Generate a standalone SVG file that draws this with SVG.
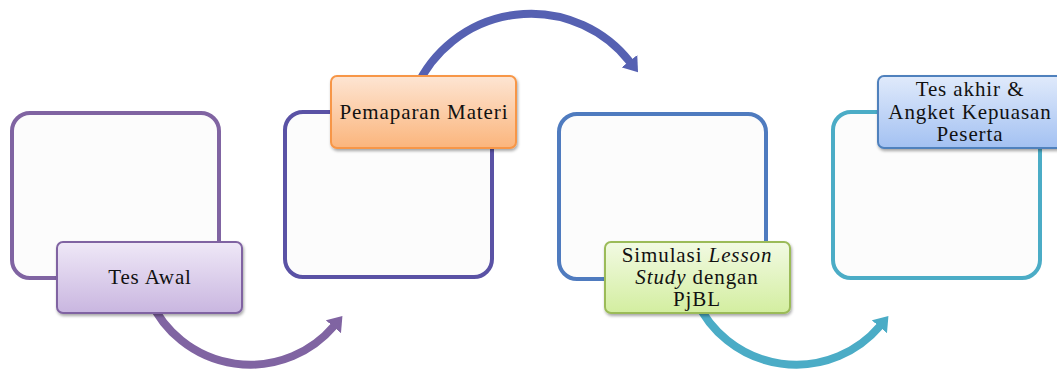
<svg xmlns="http://www.w3.org/2000/svg" width="1057" height="369" viewBox="0 0 1057 369">
<style>
.box{fill:#fcfcfc;stroke-width:4}
.lbl{stroke-width:2}
.t{font-family:"Liberation Serif","Times New Roman",serif;font-size:21px;letter-spacing:0.9px;fill:#111;text-anchor:middle}
.arc{fill:none;stroke-width:8}
</style>
<defs>
<linearGradient id="gP" x1="0" y1="0" x2="0" y2="1"><stop offset="0" stop-color="#efe8f7"/><stop offset="1" stop-color="#c9b6e0"/></linearGradient>
<linearGradient id="gO" x1="0" y1="0" x2="0" y2="1"><stop offset="0" stop-color="#fde5d3"/><stop offset="1" stop-color="#fbb57c"/></linearGradient>
<linearGradient id="gG" x1="0" y1="0" x2="0" y2="1"><stop offset="0" stop-color="#f2fae3"/><stop offset="1" stop-color="#d3eea0"/></linearGradient>
<linearGradient id="gB" x1="0" y1="0" x2="0" y2="1"><stop offset="0" stop-color="#e0eafb"/><stop offset="1" stop-color="#a3c1f2"/></linearGradient>
<filter id="sh" x="-10%" y="-10%" width="120%" height="130%"><feDropShadow dx="1" dy="2" stdDeviation="1.5" flood-color="#000" flood-opacity="0.35"/></filter>
<marker id="mP" markerUnits="userSpaceOnUse" viewBox="0 0 14 20" refX="1" refY="10" markerWidth="14" markerHeight="20" orient="auto"><path d="M0,0 L14,10 L0,20 z" fill="#8064a2"/></marker>
<marker id="mI" markerUnits="userSpaceOnUse" viewBox="0 0 14 20" refX="1" refY="10" markerWidth="14" markerHeight="20" orient="auto"><path d="M0,0 L14,10 L0,20 z" fill="#5661b2"/></marker>
<marker id="mT" markerUnits="userSpaceOnUse" viewBox="0 0 14 20" refX="1" refY="10" markerWidth="14" markerHeight="20" orient="auto"><path d="M0,0 L14,10 L0,20 z" fill="#4bacc6"/></marker>
</defs>
<g id="connectors">
<path class="arc" stroke="#8064a2" marker-end="url(#mP)" d="M 150 300 A 110 110 0 0 0 334 326"/>
<path class="arc" stroke="#5661b2" marker-end="url(#mI)" d="M 416 88 A 126 126 0 0 1 630 62"/>
<path class="arc" stroke="#4bacc6" marker-end="url(#mT)" d="M 696 300 A 110 110 0 0 0 880 326"/>
</g>
<g id="node1">
<rect class="box" x="12" y="113" width="207" height="165" rx="18" stroke="#8064a2"/>
<rect class="lbl" x="57" y="242" width="185" height="71" rx="6" fill="url(#gP)" stroke="#8064a2" filter="url(#sh)"/>
<text class="t" x="150" y="284">Tes Awal</text>
</g>
<g id="node2">
<rect class="box" x="285" y="112" width="207" height="165" rx="18" stroke="#5a52a5"/>
<rect class="lbl" x="331" y="76" width="185" height="72" rx="6" fill="url(#gO)" stroke="#f79646" filter="url(#sh)"/>
<text class="t" x="424" y="119">Pemaparan Materi</text>
</g>
<g id="node3">
<rect class="box" x="559" y="114" width="207" height="165" rx="18" stroke="#4f7bbf"/>
<rect class="lbl" x="605" y="242" width="185" height="71" rx="6" fill="url(#gG)" stroke="#9bbb59" filter="url(#sh)"/>
<text class="t" x="697" y="262">Simulasi <tspan font-style="italic">Lesson</tspan></text>
<text class="t" x="697" y="284"><tspan font-style="italic">Study</tspan> dengan</text>
<text class="t" x="697" y="306">PjBL</text>
</g>
<g id="node4">
<rect class="box" x="833" y="112" width="207" height="166" rx="18" stroke="#4bacc6"/>
<rect class="lbl" x="878" y="76" width="185" height="72" rx="6" fill="url(#gB)" stroke="#4f81bd" filter="url(#sh)"/>
<text class="t" x="970" y="96">Tes akhir &amp;</text>
<text class="t" x="970" y="119">Angket Kepuasan</text>
<text class="t" x="970" y="141">Peserta</text>
</g>
</svg>
